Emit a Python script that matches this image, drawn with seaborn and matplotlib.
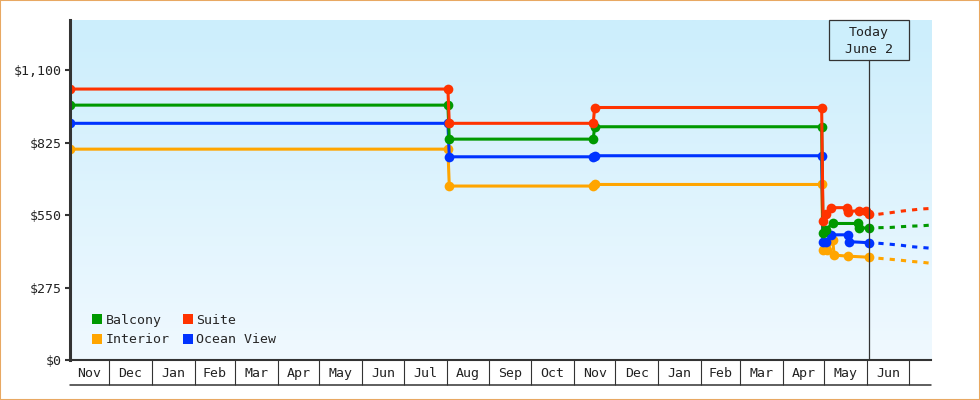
import matplotlib
matplotlib.use("Agg")
import numpy as np
import pandas as pd
import seaborn as sns
import matplotlib.pyplot as plt
import matplotlib.dates as mdates
from matplotlib.patches import Patch, Rectangle
from matplotlib.lines import Line2D
from matplotlib.colors import LinearSegmentedColormap
from matplotlib.ticker import FixedLocator, FuncFormatter, NullFormatter

# price history per cabin type (date, price)
suite_dates = ["2023-11-03", "2024-08-02", "2024-08-03", "2024-11-15", "2024-11-16",
               "2025-04-29", "2025-04-30", "2025-05-02", "2025-05-06", "2025-05-17",
               "2025-05-18", "2025-05-26", "2025-05-31", "2025-06-02"]
suite_prices = [1028, 1028, 898, 898, 958, 958, 528, 553, 578, 578, 563, 567, 565, 553]

balcony_dates = ["2023-11-03", "2024-08-02", "2024-08-03", "2024-11-15", "2024-11-16",
                 "2025-04-29", "2025-04-30", "2025-05-02", "2025-05-07", "2025-05-25",
                 "2025-05-26", "2025-06-02"]
balcony_prices = [967, 967, 838, 838, 885, 885, 481, 495, 518, 518, 502, 500]

ocean_dates = ["2023-11-03", "2024-08-02", "2024-08-03", "2024-11-15", "2024-11-16",
               "2025-04-29", "2025-04-30", "2025-05-02", "2025-05-06", "2025-05-18",
               "2025-05-19", "2025-06-02"]
ocean_prices = [898, 898, 771, 771, 775, 775, 447, 447, 475, 475, 449, 445]

interior_dates = ["2023-11-03", "2024-08-02", "2024-08-03", "2024-11-15", "2024-11-16",
                  "2025-04-29", "2025-04-30", "2025-05-03", "2025-05-07", "2025-05-08",
                  "2025-05-18", "2025-06-02"]
interior_prices = [800, 800, 660, 660, 666, 666, 417, 417, 455, 398, 394, 390]

# projected prices (dashed)
forecast_dates = ["2025-06-09", "2025-06-18", "2025-06-26", "2025-07-03", "2025-07-10", "2025-07-17"]
suite_forecast = [553, 559, 565, 569, 573, 575]
balcony_forecast = [502, 503, 506, 508, 509, 512]
ocean_forecast = [443, 439, 435, 430, 427, 424]
interior_forecast = [386, 382, 378, 374, 371, 367]

y_ticks = [0, 275, 550, 825, 1100]
today = pd.Timestamp("2025-06-02")
start = pd.Timestamp("2023-11-03")
end = pd.Timestamp("2025-07-17")

colors = {"Balcony": "#009900", "Suite": "#ff3300",
          "Interior": "#ffa500", "Ocean View": "#0033ff"}

series = {
    "Interior": (interior_dates, interior_prices, interior_forecast),
    "Ocean View": (ocean_dates, ocean_prices, ocean_forecast),
    "Balcony": (balcony_dates, balcony_prices, balcony_forecast),
    "Suite": (suite_dates, suite_prices, suite_forecast),
}

sns.set_style("white")
plt.rcParams["font.family"] = ["DejaVu Sans Mono"]
fs = 9.5
dark = "#333333"

fig = plt.figure(figsize=(9.8, 4.0), dpi=100)
pos = [70 / 980, 40 / 400, 861 / 980, 340 / 400]

# gradient background
bg = fig.add_axes(pos, zorder=0)
cmap = LinearSegmentedColormap.from_list("bg", ["#cceefc", "#f0f9ff"])
bg.imshow(np.linspace(0, 1, 256).reshape(-1, 1), cmap=cmap, aspect="auto", extent=[0, 1, 0, 1])
bg.axis("off")

ax = fig.add_axes(pos, zorder=1)
ax.set_facecolor("none")

for name, (d, p, f) in series.items():
    df = pd.DataFrame({"date": pd.to_datetime(d), "price": p})
    sns.lineplot(data=df, x="date", y="price", ax=ax, color=colors[name], lw=2.2,
                 marker="o", markersize=7, markeredgewidth=0, estimator=None,
                 sort=False, legend=False)
    fc = pd.DataFrame({"date": pd.to_datetime(forecast_dates), "price": f})
    sns.lineplot(data=fc, x="date", y="price", ax=ax, color=colors[name], lw=2.2,
                 linestyle=(0, (1.7, 2.0)), estimator=None, sort=False, legend=False)

ax.set_xlim(start, end)
ax.set_ylim(0, 1290)
ax.set_xlabel("")
ax.set_ylabel("")

# y axis
ax.set_yticks(y_ticks)
ax.yaxis.set_major_formatter(FuncFormatter(lambda v, _: f"${v:,.0f}"))
ax.tick_params(axis="y", left=True, length=3.6, width=1.5, color=dark, labelsize=fs, pad=2,
               labelcolor="#222222")

# month boxes on x axis
ax.xaxis.set_major_locator(mdates.MonthLocator())
ax.xaxis.set_major_formatter(NullFormatter())
bounds = [start] + list(pd.date_range("2023-12-01", "2025-07-01", freq="MS"))
mids = [mdates.date2num(a + (b - a) / 2) for a, b in zip(bounds[:-1], bounds[1:])]
ax.xaxis.set_minor_locator(FixedLocator(mids))
ax.xaxis.set_minor_formatter(mdates.DateFormatter("%b"))
ax.tick_params(axis="x", which="major", bottom=True, direction="out", length=18, width=0.8, color=dark)
ax.tick_params(axis="x", which="minor", bottom=True, length=0, pad=5, labelsize=fs, labelcolor="#222222")

sns.despine(ax=ax, top=True, right=True)
ax.spines["left"].set_linewidth(2.2)
ax.spines["left"].set_color(dark)
ax.spines["bottom"].set_linewidth(1.5)
ax.spines["bottom"].set_color(dark)
fig.add_artist(Line2D([70 / 980, 931 / 980], [15 / 400, 15 / 400], color=dark, lw=1.1,
                      transform=fig.transFigure))

# today marker
xa = (mdates.date2num(today) - mdates.date2num(start)) / (mdates.date2num(end) - mdates.date2num(start))
ax.axvline(today, ymin=0, ymax=1 - 40 / 340, color=dark, lw=0.9)
ax.add_patch(Rectangle((xa - 40 / 861, 1 - 40 / 340), 80 / 861, 40 / 340, transform=ax.transAxes,
                       facecolor="#cdeffc", edgecolor=dark, lw=0.9, clip_on=False))
ax.text(xa, 1 - 21 / 340, "Today\nJune 2", transform=ax.transAxes, ha="center", va="center",
        fontsize=fs, color="#222222", linespacing=1.35)

# legend
handles = [Patch(facecolor=colors[n], edgecolor="none", label=n)
           for n in ["Balcony", "Interior", "Suite", "Ocean View"]]
ax.legend(handles=handles, ncol=2, loc="lower left", bbox_to_anchor=(0.026, 0.04),
          frameon=False, fontsize=fs, handlelength=0.76, handleheight=0.76,
          handletextpad=0.25, columnspacing=1.0, labelspacing=0.5,
          borderpad=0, borderaxespad=0)

fig.add_artist(Rectangle((0, 0), 1, 1, transform=fig.transFigure, fill=False,
                         edgecolor="#e8a862", lw=1.5))

fig.savefig("out.png", dpi=100)
